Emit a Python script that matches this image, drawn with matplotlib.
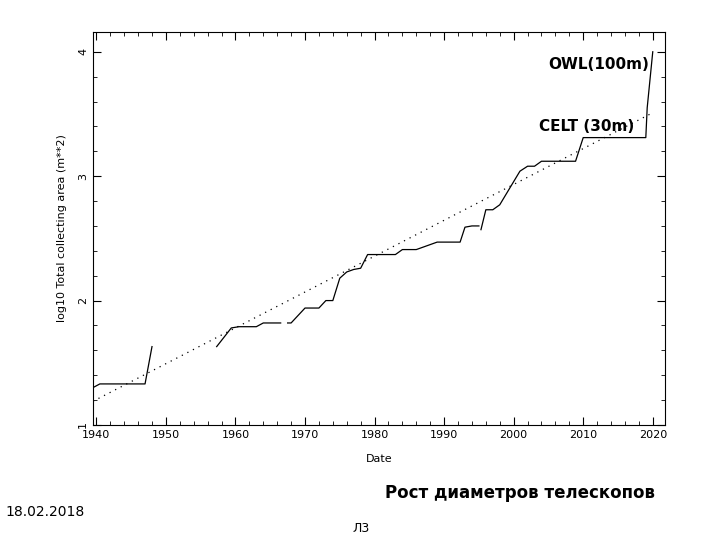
import numpy as np
import matplotlib.pyplot as plt
from matplotlib.ticker import MultipleLocator

# solid curve, split in segments (gaps in the original)
seg1_x = [1939.5, 1940.5, 1947, 1948]
seg1_y = [1.30, 1.33, 1.33, 1.63]
seg2_x = [1957.3, 1959.4, 1960.5, 1963, 1964, 1966.5]
seg2_y = [1.63, 1.78, 1.79, 1.79, 1.82, 1.82]
seg3_x = [1967.5, 1968, 1970, 1972, 1973, 1974, 1975, 1976, 1977, 1978, 1979, 1983, 1984,
          1986, 1987, 1988, 1989, 1992.3, 1993, 1994, 1995]
seg3_y = [1.82, 1.82, 1.94, 1.94, 2.00, 2.00, 2.18, 2.23, 2.25, 2.26, 2.37, 2.37, 2.41,
          2.41, 2.43, 2.45, 2.47, 2.47, 2.59, 2.60, 2.60]
seg4_x = [1995.3, 1996, 1997, 1998, 2000.9, 2002, 2003, 2004, 2008.9, 2010, 2019, 2019.2, 2020]
seg4_y = [2.57, 2.73, 2.73, 2.77, 3.04, 3.08, 3.08, 3.12, 3.12, 3.31, 3.31, 3.55, 4.00]

trend_x = [1939.5, 2020]
trend_y = [1.19, 3.51]

fig = plt.figure(figsize=(7.2, 5.4), dpi=100)
ax = fig.add_axes([0.129, 0.213, 0.795, 0.728])

for sx, sy in [(seg1_x, seg1_y), (seg2_x, seg2_y), (seg3_x, seg3_y), (seg4_x, seg4_y)]:
    ax.plot(sx, sy, color='black', lw=0.9)
ax.plot(trend_x, trend_y, color='black', lw=0.9, ls=(0, (1, 4)))

ax.set_xlim(1939.5, 2021.8)
ax.set_ylim(1, 4.16)
ax.xaxis.set_major_locator(MultipleLocator(10))
ax.xaxis.set_minor_locator(MultipleLocator(2))
ax.yaxis.set_major_locator(MultipleLocator(1))
ax.yaxis.set_minor_locator(MultipleLocator(0.2))
ax.tick_params(which='both', direction='in', top=True, right=True, labelsize=8)
ax.tick_params(which='major', length=6)
ax.tick_params(which='minor', length=3)
for lab in ax.get_yticklabels():
    lab.set_rotation(90)
    lab.set_va('center')

ax.set_xlabel('Date', fontsize=8, labelpad=10)
ax.set_ylabel('log10 Total collecting area (m**2)', fontsize=8, labelpad=8)

ax.text(2019.5, 3.9, 'OWL(100m)', ha='right', va='center', fontsize=11, fontweight='bold')
ax.text(2017.3, 3.4, 'CELT (30m)', ha='right', va='center', fontsize=11, fontweight='bold')

fig.text(0.535, 0.078, 'Рост диаметров телескопов', fontsize=12, fontweight='bold')
fig.text(0.007, 0.045, '18.02.2018', fontsize=10)
fig.text(0.49, 0.015, 'Л3', fontsize=9)

fig.savefig('out.png')
